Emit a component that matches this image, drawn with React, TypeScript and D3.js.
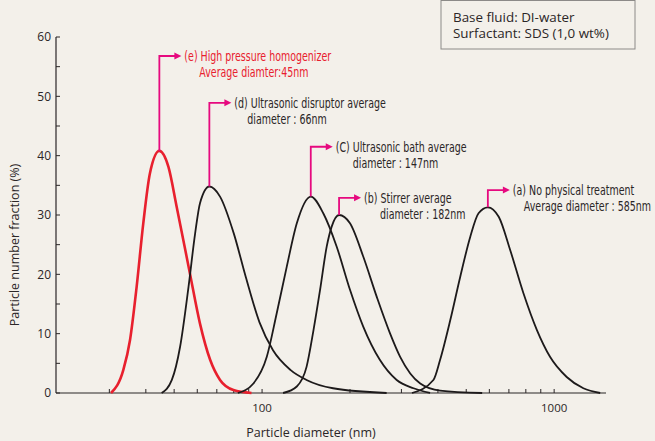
import React, { useRef, useEffect } from "react";
import * as d3 from "d3";

// [diameter (nm), particle number fraction (%)]
const seriesA = [[326, 0], [386, 2.2], [407, 5.6], [441, 12.3], [477, 19.6], [516, 26.3], [551, 30.3], [593, 31.3], [646, 29.7], [707, 24.1], [785, 16.8], [873, 10.6], [968, 6.1], [1104, 2.7], [1259, 0.8], [1438, 0]];
const seriesB = [[118, 0], [131.5, 1.1], [142, 4.4], [150, 10.6], [158, 17.4], [166.5, 24.7], [173, 28.0], [183.5, 30.0], [200, 28.6], [222, 23.0], [247, 16.2], [274, 10.1], [297, 6.1], [348, 1.6], [407, 0.4], [567, 0]];
const seriesC = [[82.6, 0], [93.4, 1.6], [103.8, 6.1], [112.2, 13.4], [121.5, 21.3], [131.5, 28.6], [146.8, 33.1], [162, 30.3], [180, 24.7], [200, 17.4], [222, 11.2], [253, 5.6], [289, 2.2], [330, 0.8], [376, 0]];
const seriesD = [[45.3, 0], [49.1, 2.2], [52.4, 7.8], [56, 17.9], [59, 26.9], [61.3, 32.0], [66, 34.8], [71.8, 33.1], [80, 26.9], [88, 19.5], [98, 11.9], [109, 7.2], [125, 3.9], [142, 2.2], [175, 0.8], [267, 0]];
const seriesE = [[30.4, 0], [33.5, 3.9], [35.3, 8.9], [37.2, 17.9], [39.2, 28.6], [41.3, 37.0], [44.5, 40.8], [47.8, 38.1], [51, 31.4], [56.6, 20.2], [61.3, 11.7], [66.4, 5.6], [71.8, 2.2], [79.8, 0.5], [92, 0]];

const annotationLines = [
    ["(e) High pressure homogenizer", "Average diamter:45nm"],
    ["(d) Ultrasonic disruptor average", "diameter : 66nm"],
    ["(C) Ultrasonic bath average", "diameter : 147nm"],
    ["(b) Stirrer average", "diameter : 182nm"],
    ["(a) No physical treatment", "Average diameter : 585nm"],
];
const annotationTop = [56.8, 48.9, 41.5, 32.9, 34.2]; // % level of the leader
const annotationIndent = [15, 13, 17, 16, 11];

const yTicks = [0, 10, 20, 30, 40, 50, 60];
const xMajor = [100, 1000];
const xMinor = [30, 40, 50, 60, 70, 80, 90, 200, 300, 400, 500, 600, 700, 800, 900];
const boxLines = ["Base fluid: DI-water", "Surfactant: SDS (1,0 wt%)"];

const BG = "#f3f0ea";
const INK = "#2b2627";
const MAGENTA = "#e6097f";
const RED = "#e8202e";
const NARROW = "'Liberation Sans Narrow', 'DejaVu Sans Condensed', 'Roboto', sans-serif";
const SANS = "'Open Sans', 'Noto Sans', sans-serif";

const ParticleChart = () => {
    const svgRef = useRef(null);

    useEffect(() => {
        const svg = d3.select(svgRef.current);
        svg.selectAll("*").remove();

        const W = 655, H = 441;
        const left = 56, right = 606, top = 37, bottom = 393;

        svg.append("rect").attr("width", W).attr("height", H).attr("fill", BG);

        const x = d3.scaleLog().domain([19.7, 1505]).range([left, right]);
        const y = d3.scaleLinear().domain([0, 60]).range([bottom, top]);

        // axes
        svg.append("line").attr("x1", left).attr("x2", left).attr("y1", top).attr("y2", bottom)
            .attr("stroke", INK).attr("stroke-width", 1.2);
        svg.append("line").attr("x1", left).attr("x2", right).attr("y1", bottom).attr("y2", bottom)
            .attr("stroke", INK).attr("stroke-width", 1.2);

        d3.range(0, 61, 5).forEach(v => {
            svg.append("line").attr("x1", left).attr("x2", left + 4).attr("y1", y(v)).attr("y2", y(v))
                .attr("stroke", INK).attr("stroke-width", 1);
        });
        yTicks.forEach(v => {
            svg.append("text").attr("x", left - 5).attr("y", y(v)).attr("dy", "0.35em")
                .attr("text-anchor", "end").attr("font-family", SANS).attr("font-size", 12)
                .attr("fill", INK).text(v);
        });

        xMinor.concat(xMajor).forEach(v => {
            svg.append("line").attr("x1", x(v)).attr("x2", x(v)).attr("y1", bottom).attr("y2", bottom - 4)
                .attr("stroke", INK).attr("stroke-width", 1);
        });
        xMajor.forEach(v => {
            svg.append("text").attr("x", x(v)).attr("y", bottom + 19)
                .attr("text-anchor", "middle").attr("font-family", SANS).attr("font-size", 11.5)
                .attr("fill", INK).text(v);
        });

        svg.append("text").attr("x", (left + right) / 2 - 20).attr("y", 437)
            .attr("text-anchor", "middle").attr("font-family", SANS).attr("font-size", 12.5)
            .attr("fill", INK).text("Particle diameter (nm)");
        svg.append("text").attr("transform", `translate(19,245) rotate(-90)`)
            .attr("text-anchor", "middle").attr("font-family", SANS).attr("font-size", 12.5)
            .attr("fill", INK).text("Particle number fraction (%)");

        // curves
        const line = d3.line().x(d => x(d[0])).y(d => y(d[1])).curve(d3.curveMonotoneX);
        const series = [seriesE, seriesD, seriesC, seriesB, seriesA];
        series.forEach((s, i) => {
            svg.append("path").attr("d", line(s)).attr("fill", "none")
                .attr("stroke", i === 0 ? RED : "#1d1a1b")
                .attr("stroke-width", i === 0 ? 2.6 : 1.8)
                .attr("stroke-linejoin", "round");
        });

        // leaders + labels (condensed lettering, squeezed horizontally)
        const squeeze = 0.78;
        series.forEach((s, i) => {
            const peak = s.reduce((a, b) => (b[1] > a[1] ? b : a));
            const px = x(peak[0]), py = y(peak[1]);
            const ty = y(annotationTop[i]);
            const tip = px + 22;
            svg.append("path").attr("d", `M${px},${py}V${ty}H${tip - 6}`)
                .attr("fill", "none").attr("stroke", MAGENTA).attr("stroke-width", 1.8);
            svg.append("path").attr("d", `M${tip - 7},${ty - 3.5}L${tip},${ty}L${tip - 7},${ty + 3.5}Z`)
                .attr("fill", MAGENTA);
            const [l1, l2] = annotationLines[i];
            const color = i === 0 ? RED : INK;
            svg.append("text").attr("transform", `translate(${tip + 3},${ty}) scale(${squeeze},1)`)
                .attr("dy", "0.35em")
                .attr("font-family", NARROW).attr("font-size", 13.5).attr("fill", color).text(l1);
            svg.append("text")
                .attr("transform", `translate(${tip + 3 + annotationIndent[i]},${ty + 16.5}) scale(${squeeze},1)`)
                .attr("dy", "0.35em")
                .attr("font-family", NARROW).attr("font-size", 13.5).attr("fill", color).text(l2);
        });

        // info box
        svg.append("rect").attr("x", 441).attr("y", 0.5).attr("width", 194).attr("height", 48.5)
            .attr("fill", "none").attr("stroke", "#8c8a88").attr("stroke-width", 1);
        boxLines.forEach((t, i) => {
            svg.append("text").attr("x", 453).attr("y", 17 + i * 16.5).attr("dy", "0.35em")
                .attr("font-family", SANS).attr("font-size", 13.4).attr("fill", INK).text(t);
        });
    }, []);

    return (
        <svg ref={svgRef} width={655} height={441}
            style={{ position: "fixed", left: 0, top: 0, display: "block" }}></svg>
    );
};

export default function App() {
    return <ParticleChart />;
}
